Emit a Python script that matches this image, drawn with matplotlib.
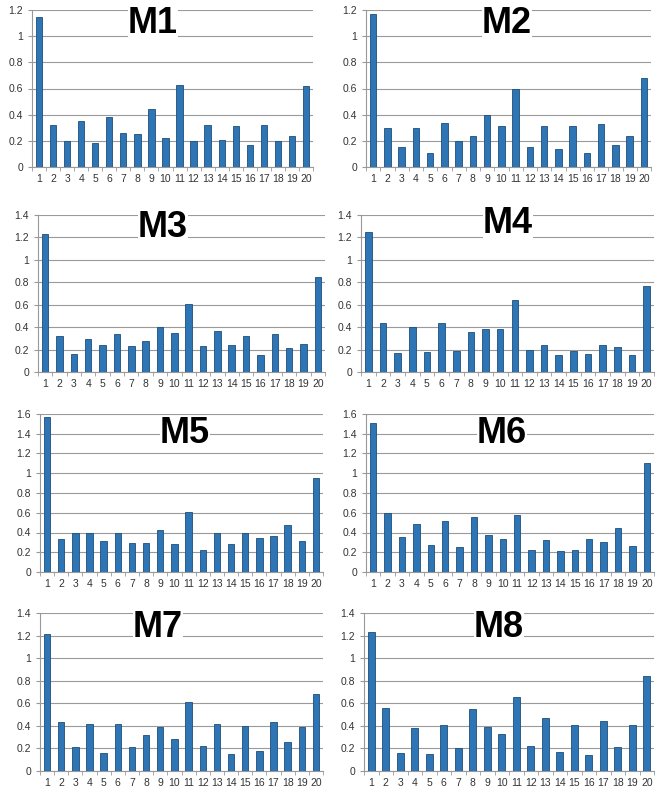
import matplotlib.pyplot as plt
import numpy as np

plt.rcParams['font.family'] = ['Liberation Sans', 'DejaVu Sans']

categories = list(range(1, 21))

m1 = [1.15, 0.32, 0.20, 0.35, 0.18, 0.38, 0.26, 0.25, 0.44, 0.22, 0.63, 0.20, 0.32, 0.21, 0.31, 0.17, 0.32, 0.20, 0.24, 0.62]
m2 = [1.17, 0.30, 0.15, 0.30, 0.11, 0.34, 0.20, 0.24, 0.40, 0.31, 0.60, 0.15, 0.31, 0.14, 0.31, 0.11, 0.33, 0.17, 0.24, 0.68]
m3 = [1.23, 0.32, 0.16, 0.29, 0.24, 0.34, 0.23, 0.28, 0.40, 0.35, 0.61, 0.23, 0.37, 0.24, 0.32, 0.15, 0.34, 0.21, 0.25, 0.85]
m4 = [1.25, 0.44, 0.17, 0.40, 0.18, 0.44, 0.19, 0.36, 0.38, 0.38, 0.64, 0.20, 0.24, 0.15, 0.19, 0.16, 0.24, 0.22, 0.15, 0.77]
m5 = [1.57, 0.33, 0.39, 0.39, 0.31, 0.40, 0.29, 0.29, 0.43, 0.28, 0.61, 0.22, 0.39, 0.28, 0.39, 0.34, 0.36, 0.48, 0.31, 0.95]
m6 = [1.51, 0.60, 0.35, 0.49, 0.27, 0.52, 0.25, 0.56, 0.37, 0.33, 0.58, 0.22, 0.32, 0.21, 0.22, 0.33, 0.30, 0.45, 0.26, 1.10]
m7 = [1.21, 0.43, 0.21, 0.42, 0.16, 0.42, 0.21, 0.32, 0.39, 0.28, 0.61, 0.22, 0.42, 0.15, 0.40, 0.18, 0.43, 0.26, 0.39, 0.68]
m8 = [1.23, 0.56, 0.16, 0.38, 0.15, 0.41, 0.20, 0.55, 0.39, 0.33, 0.66, 0.22, 0.47, 0.17, 0.41, 0.14, 0.44, 0.21, 0.41, 0.84]

titles = ['M1', 'M2', 'M3', 'M4', 'M5', 'M6', 'M7', 'M8']
series = [m1, m2, m3, m4, m5, m6, m7, m8]
ymax = [1.2, 1.2, 1.4, 1.4, 1.6, 1.6, 1.4, 1.4]

W, H = 659, 797
fig = plt.figure(figsize=(W / 100, H / 100), dpi=100)

# plot areas in pixels: (left, top, right, bottom)
boxes = [
    (32, 10, 313, 167), (366, 10, 651, 167),
    (38, 215, 325, 372), (361, 215, 654, 372),
    (40, 414, 323, 572), (366, 414, 654, 572),
    (40, 613, 323, 771), (364, 613, 654, 771),
]
# title centre x and baseline y, in pixels
title_pos = [(153, 33), (507, 33), (163, 237), (508, 233),
             (185, 443), (502, 443), (158, 637), (499, 637)]

for (l, t, r, b), name, vals, top, (tx, ty) in zip(boxes, titles, series, ymax, title_pos):
    ax = fig.add_axes([l / W, 1 - b / H, (r - l) / W, (b - t) / H])
    ax.bar(categories, vals, width=0.45, color='#2E75B6', edgecolor='#1F4E79',
           linewidth=0.6, zorder=3)
    ax.set_xlim(0.5, 20.5)
    ax.set_ylim(0, top)
    yt = np.arange(0, top + 0.01, 0.2)
    ax.set_yticks(yt)
    ax.set_yticklabels(['0' if v == 0 else ('1' if abs(v - 1) < 1e-9 else f'{v:.1f}') for v in yt])
    ax.set_xticks(categories)
    ax.set_xticks(np.arange(0.5, 21, 1), minor=True)
    ax.tick_params(axis='x', which='major', length=0, labelsize=7.5, colors='#333333', pad=5)
    ax.tick_params(axis='x', which='minor', length=3, color='#999999')
    ax.tick_params(axis='y', length=3, color='#999999', labelsize=7.5, colors='#333333')
    ax.grid(axis='y', color='#9a9a9a', linewidth=0.8, zorder=0)
    for s in ['top', 'right']:
        ax.spines[s].set_visible(False)
    ax.spines['left'].set_color('#999999')
    ax.spines['bottom'].set_color('#999999')
    fig.text(tx / W, 1 - ty / H, name, ha='center', va='baseline',
             fontsize=26, fontweight='bold', color='black', zorder=5,
             bbox=dict(facecolor='white', edgecolor='none', pad=0))

fig.savefig('out.png', dpi=100)
